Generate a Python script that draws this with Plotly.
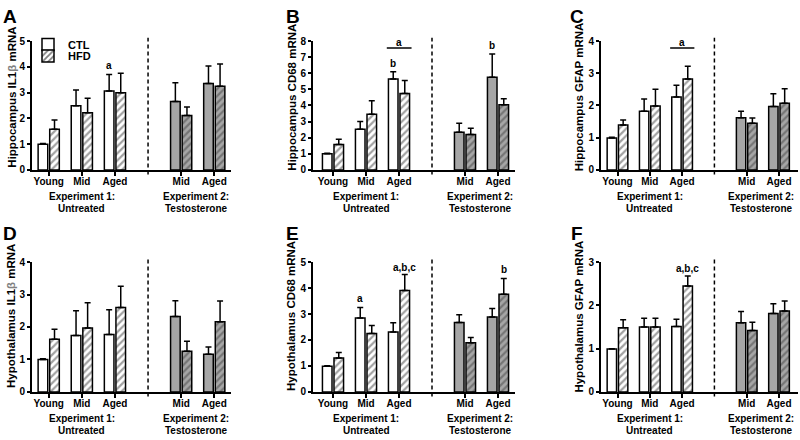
import plotly.graph_objects as go

# ---------------- data ----------------
exp1_groups = ["Young", "Mid", "Aged"]
exp2_groups = ["Mid", "Aged"]
group_labels = exp1_groups + [""] + exp2_groups          # "" = divider slot
exp_labels = [("Experiment 1:", "Untreated"), ("Experiment 2:", "Testosterone")]
series_names = ["CTL", "HFD"]

panel_letters = ["A", "B", "C", "D", "E", "F"]
y_titles = ["Hippocampus IL1<span style='color:#808080'>β</span> mRNA",
            "Hippocampus CD68 mRNA",
            "Hippocampus GFAP mRNA",
            "Hypothalamus IL1<span style='color:#808080'>β</span> mRNA",
            "Hypothalamus CD68 mRNA",
            "Hypothalamus GFAP mRNA"]
y_max = [5, 8, 4, 4, 5, 3]

# means and SEM: order Young, Mid, Aged (Exp 1), Mid, Aged (Exp 2)
A_ctl = [1.00, 2.49, 3.06, 2.65, 3.35]
A_ctl_sem = [0.02, 0.61, 0.64, 0.73, 0.68]
A_hfd = [1.58, 2.22, 2.99, 2.11, 3.25]
A_hfd_sem = [0.36, 0.56, 0.76, 0.33, 0.86]

B_ctl = [1.00, 2.52, 5.65, 2.34, 5.75]
B_ctl_sem = [0.04, 0.48, 0.44, 0.56, 1.44]
B_hfd = [1.58, 3.45, 4.75, 2.20, 4.05]
B_hfd_sem = [0.32, 0.84, 0.80, 0.38, 0.36]

C_ctl = [0.99, 1.82, 2.26, 1.62, 1.97]
C_ctl_sem = [0.02, 0.38, 0.37, 0.20, 0.39]
C_hfd = [1.39, 1.98, 2.82, 1.45, 2.07]
C_hfd_sem = [0.16, 0.52, 0.40, 0.16, 0.45]

D_ctl = [1.00, 1.74, 1.77, 2.32, 1.16]
D_ctl_sem = [0.02, 0.76, 0.76, 0.49, 0.22]
D_hfd = [1.62, 1.97, 2.60, 1.25, 2.16]
D_hfd_sem = [0.31, 0.78, 0.66, 0.31, 0.64]

E_ctl = [0.99, 2.85, 2.31, 2.67, 2.89]
E_ctl_sem = [0.02, 0.40, 0.35, 0.30, 0.32]
E_hfd = [1.31, 2.25, 3.91, 1.89, 3.76]
E_hfd_sem = [0.21, 0.31, 0.61, 0.21, 0.61]

F_ctl = [0.99, 1.50, 1.51, 1.60, 1.81]
F_ctl_sem = [0.01, 0.20, 0.17, 0.26, 0.23]
F_hfd = [1.48, 1.50, 2.45, 1.42, 1.87]
F_hfd_sem = [0.19, 0.20, 0.23, 0.19, 0.23]

# significance letters: (panel, text, bar index, series, y)
sig_letters = [
    (0, "a", 2, 0, 4.05),
    (1, "b", 2, 0, 6.62),
    (1, "a", 2, None, 7.92),
    (1, "b", 4, 0, 7.72),
    (2, "a", 2, None, 3.96),
    (4, "a", 1, 0, 3.60),
    (4, "a,b,c", 2, 1, 4.78),
    (4, "b", 4, 1, 4.72),
    (5, "a,b,c", 2, 1, 2.85),
]
# significance lines: (panel, bar index, y)
sig_lines = [(1, 2, 7.56), (2, 2, 3.78)]

panels = [
    (A_ctl, A_ctl_sem, A_hfd, A_hfd_sem),
    (B_ctl, B_ctl_sem, B_hfd, B_hfd_sem),
    (C_ctl, C_ctl_sem, C_hfd, C_hfd_sem),
    (D_ctl, D_ctl_sem, D_hfd, D_hfd_sem),
    (E_ctl, E_ctl_sem, E_hfd, E_hfd_sem),
    (F_ctl, F_ctl_sem, F_hfd, F_hfd_sem),
]

# ---------------- layout geometry ----------------
W, H = 800, 440
FONT = "Liberation Sans, Arial, sans-serif"
GRAY = "#a6a6a6"

slot_pos = list(range(len(group_labels)))
bar_pos = [p for p, g in zip(slot_pos, group_labels) if g]
divider_pos = [p for p, g in zip(slot_pos, group_labels) if not g][0]
exp1_center = sum(bar_pos[:len(exp1_groups)]) / len(exp1_groups)
exp2_center = sum(bar_pos[len(exp1_groups):]) / len(exp2_groups) - 0.05
fill_colors = ["white"] * len(exp1_groups) + [GRAY] * len(exp2_groups)

col_px = [(31.7, 230.5, -0.514), (312.7, 514.5, -0.615), (600.7, 798.4, -0.52)]
col_range_end = [5.49, 5.5, 5.6]
row_px = [(36.0, 168.5), (263.3, 396.7)]
letter_px = [(10, 10.5), (292.5, 10.5), (577, 10.5), (9.5, 233.5), (292.5, 233.5), (576.5, 233.5)]
ytitle_px = [(11.7, 93.5), (291.7, 93.5), (579.3, 93.5),
             (11.7, 319), (291.7, 319), (579.3, 319)]

BAR_W = 0.29
OFFS = [-0.32, 0.03]

fig = go.Figure()
layout = dict(
    width=W, height=H,
    margin=dict(l=0, r=0, t=0, b=0),
    paper_bgcolor="white", plot_bgcolor="white",
    barmode="overlay",
    font=dict(family=FONT, size=10, color="black"),
    annotations=[], shapes=[],
)


def px_x(v):
    return v / W


def px_y(v):
    return 1 - v / H


for i, (ctl, ctl_sem, hfd, hfd_sem) in enumerate(panels):
    r, c = divmod(i, 3)
    n = i + 1
    xa = "x" if n == 1 else f"x{n}"
    ya = "y" if n == 1 else f"y{n}"
    x0p, x1p, xr0 = col_px[c]
    y0p, y1p = row_px[r]
    for s, (vals, sem) in enumerate([(ctl, ctl_sem), (hfd, hfd_sem)]):
        marker = dict(color=fill_colors, line=dict(color="black", width=1.5))
        if s == 1:
            marker["pattern"] = dict(shape="/", fgcolor="black", bgcolor=fill_colors,
                                     size=5, solidity=0.45)
        showleg = (i == 0)
        fig.add_trace(go.Bar(
            x=bar_pos, y=vals, width=BAR_W, offset=OFFS[s],
            marker=marker,
            error_y=dict(type="data", array=sem, arrayminus=[0] * len(sem),
                         symmetric=False, color="black", thickness=1.5, width=3),
            name=series_names[s], showlegend=showleg,
            legend="legend" if s == 0 else "legend2",
            xaxis=xa, yaxis=ya,
        ))
    axkey_x = "xaxis" if n == 1 else f"xaxis{n}"
    axkey_y = "yaxis" if n == 1 else f"yaxis{n}"
    layout[axkey_x] = dict(
        domain=[px_x(x0p), px_x(x1p)], anchor=ya,
        range=[xr0, col_range_end[c]],
        tickvals=bar_pos, ticktext=[g for g in group_labels if g],
        ticks="outside", ticklen=4, tickwidth=1.5, tickcolor="black",
        ticklabelstandoff=-3,
        showline=True, linecolor="black", linewidth=1.5,
        showgrid=False, zeroline=False,
        tickfont=dict(family=FONT, size=10, color="black", weight="bold"),
        fixedrange=True,
    )
    layout[axkey_y] = dict(
        domain=[px_y(y1p), px_y(y0p)], anchor=xa,
        range=[0, y_max[i]], dtick=1,
        ticks="outside", ticklen=3, tickwidth=1.5, tickcolor="black",
        showline=True, linecolor="black", linewidth=1.5,
        showgrid=False, zeroline=False,
        tickfont=dict(family=FONT, size=10, color="black", weight="bold"),
        fixedrange=True,
    )
    # divider
    layout["shapes"].append(dict(
        type="line", xref=xa, yref=f"{ya} domain",
        x0=divider_pos, x1=divider_pos, y0=-0.035, y1=1.025,
        line=dict(color="black", width=1.5, dash="4px,3px")))
    # experiment labels
    for (l1, l2), xc in zip(exp_labels, [exp1_center, exp2_center]):
        for txt, dy in [(l1, 27), (l2, 40)]:
            layout["annotations"].append(dict(
                xref=xa, yref="paper", x=xc, y=px_y(y1p + dy),
                text=f"<b>{txt}</b>", showarrow=False,
                xanchor="center", yanchor="middle",
                font=dict(family=FONT, size=10, color="black")))
    # panel letter
    lx, ly = letter_px[i]
    layout["annotations"].append(dict(
        xref="paper", yref="paper", x=px_x(lx), y=px_y(ly),
        text=f"<b>{panel_letters[i]}</b>", showarrow=False,
        xanchor="center", yanchor="middle",
        font=dict(family=FONT, size=19, color="black")))
    # y title
    tx, ty = ytitle_px[i]
    layout["annotations"].append(dict(
        xref="paper", yref="paper", x=px_x(tx), y=px_y(ty),
        text=f"<b>{y_titles[i]}</b>", showarrow=False, textangle=-90,
        xanchor="center", yanchor="middle",
        font=dict(family=FONT, size=11.5, color="black")))

# significance annotations
for (p, txt, bi, s, yv) in sig_letters:
    n = p + 1
    xa = "x" if n == 1 else f"x{n}"
    ya = "y" if n == 1 else f"y{n}"
    xc = bar_pos[bi] + (0 if s is None else OFFS[s] + BAR_W / 2)
    layout["annotations"].append(dict(
        xref=xa, yref=ya, x=xc, y=yv, text=f"<b>{txt}</b>", showarrow=False,
        xanchor="center", yanchor="middle",
        font=dict(family=FONT, size=10, color="black")))
for (p, bi, yv) in sig_lines:
    n = p + 1
    xa = "x" if n == 1 else f"x{n}"
    ya = "y" if n == 1 else f"y{n}"
    layout["shapes"].append(dict(
        type="line", xref=xa, yref=ya,
        x0=bar_pos[bi] + OFFS[0] - 0.05, x1=bar_pos[bi] + OFFS[1] + BAR_W + 0.06,
        y0=yv, y1=yv, line=dict(color="black", width=1.5)))

leg_common = dict(xanchor="left", yanchor="middle", bgcolor="rgba(0,0,0,0)",
                  borderwidth=0,
                  font=dict(family=FONT, size=11, color="black", weight="bold"),
                  itemclick=False, itemdoubleclick=False)
layout["legend"] = dict(x=px_x(28), y=px_y(39.5), **leg_common)
layout["legend2"] = dict(x=px_x(28), y=px_y(51.5), **leg_common)

fig.update_layout(**layout)
fig.write_html(
    "out.html",
    config={"displayModeBar": False},
    post_script="document.body.style.margin='0px';document.body.style.padding='0px';"
                "document.body.style.overflow='hidden';",
)
